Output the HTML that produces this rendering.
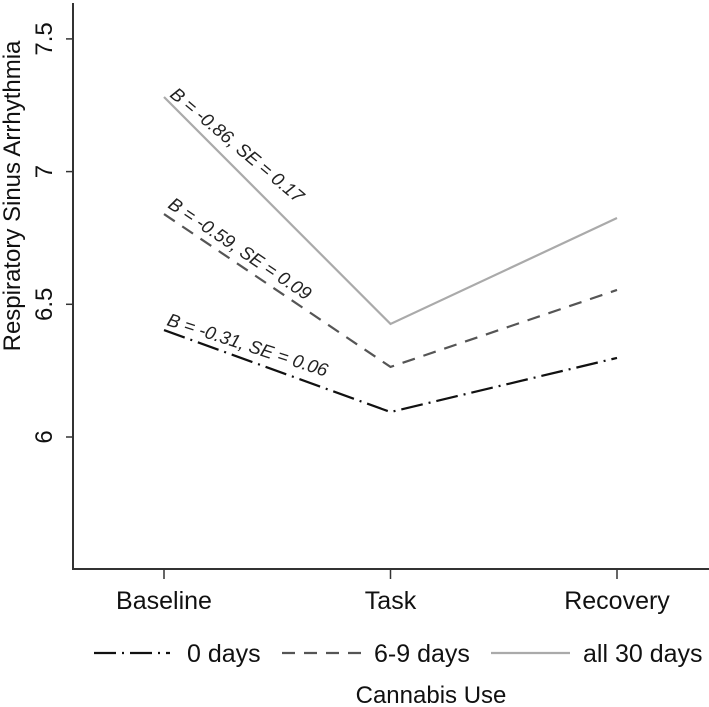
<!DOCTYPE html>
<html><head><meta charset="utf-8"><style>
body{margin:0;background:#fff}
svg{display:block;font-family:"Liberation Sans",Arial,sans-serif}
</style></head><body>
<svg id="chart" width="709" height="707">
<g id="axes"></g><g id="series"></g><g id="legend"></g>
</svg>
<script>
const categories = ["Baseline","Task","Recovery"];
const yTicks = [6, 6.5, 7, 7.5];
const yTickLabels = ["6","6.5","7","7.5"];
const series0 = [6.403, 6.094, 6.298];
const series69 = [6.840, 6.264, 6.554];
const series30 = [7.281, 6.426, 6.825];
const seriesNames = ["0 days","6-9 days","all 30 days"];
const annotations = ["B = -0.31, SE = 0.06","B = -0.59, SE = 0.09","B = -0.86, SE = 0.17"];

const NS="http://www.w3.org/2000/svg";
function mk(tag, attrs, parent){const e=document.createElementNS(NS,tag);for(const k in attrs)e.setAttribute(k,attrs[k]);parent.appendChild(e);return e;}
const y = v => 437 - (v-6)*265.4;
const x = i => 164 + i*226.5;
const axes=document.getElementById('axes'), ser=document.getElementById('series'), leg=document.getElementById('legend');

let e=mk('line',{x1:73,y1:3,x2:73,y2:569,stroke:'#333','stroke-width':2},axes);


e=mk('line',{x1:72,y1:569,x2:709,y2:569,stroke:'#333','stroke-width':2},axes);


yTicks.forEach((t,i)=>{
  let l=mk('line',{x1:66,y1:y(t),x2:73,y2:y(t),stroke:'#333','stroke-width':1.5},axes);
  
  
  let tx=mk('text',{x:0,y:0,transform:`translate(52,${y(t)}) rotate(-90)`,'text-anchor':'middle','font-size':24,fill:'#111'},axes);
  tx.textContent=yTickLabels[i];
  
  
});
categories.forEach((c,i)=>{
  let l=mk('line',{x1:x(i),y1:569,x2:x(i),y2:579,stroke:'#333','stroke-width':1.5},axes);
  
  
  let tx=mk('text',{x:x(i),y:609,'text-anchor':'middle','font-size':25,fill:'#111'},axes);
  tx.textContent=c;
  
  
});
let yt=mk('text',{x:0,y:0,transform:'translate(20,196) rotate(-90)','text-anchor':'middle','font-size':24,fill:'#111'},axes);
yt.textContent='Respiratory Sinus Arrhythmia';


let xt=mk('text',{x:431,y:703,'text-anchor':'middle','font-size':24,fill:'#111'},axes);
xt.textContent='Cannabis Use';



const styles=[{stroke:'#111',dash:'22 6 2 6',w:2.2},{stroke:'#555',dash:'13 9',w:2.2},{stroke:'#aaa',dash:'',w:2.2}];
const allSeries=[series0,series69,series30];
const annPos=[[166,325,18],[167,207,34],[169,96,40]];
allSeries.forEach((s,k)=>{
  const d=s.map((v,i)=>(i?'L':'M')+x(i)+','+y(v)).join(' ');
  let p=mk('path',{d:d,fill:'none',stroke:styles[k].stroke,'stroke-width':styles[k].w,'stroke-dasharray':styles[k].dash},ser);
  
  
  const a=annPos[k];
  let t=mk('text',{x:0,y:0,transform:`translate(${a[0]},${a[1]}) rotate(${a[2]})`,'font-size':18.5,'font-style':'italic',fill:'#222'},ser);
  t.textContent=annotations[k];
  
  
});
const legX=[[94,170,187],[282,362,374],[491,570,583]];
seriesNames.forEach((n,k)=>{
  let l=mk('line',{x1:legX[k][0],y1:653,x2:legX[k][1],y2:653,stroke:styles[k].stroke,'stroke-width':2.2,'stroke-dasharray':styles[k].dash},leg);
  
  
  let t=mk('text',{x:legX[k][2],y:662,'font-size':25,fill:'#111'},leg);
  t.textContent=n;
  
  
});
</script>
</body></html>
